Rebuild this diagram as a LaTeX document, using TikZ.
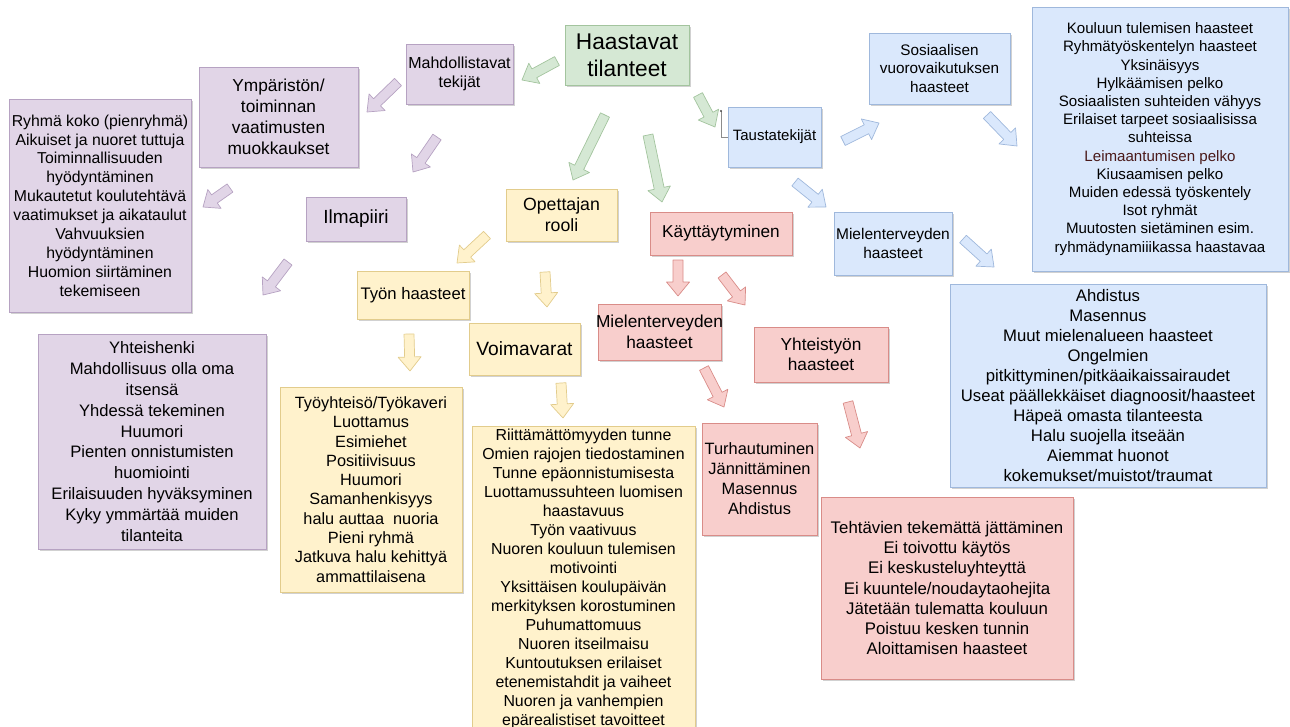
\documentclass[tikz,border=0pt]{standalone}
\usepackage{fontspec}
\setmainfont{Liberation Sans}
\usetikzlibrary{calc,shadows}

% colour scheme: fill and outline per branch
\definecolor{gfill}{HTML}{D5E8D4}\definecolor{gline}{HTML}{A3C49E}
\definecolor{pfill}{HTML}{E1D5E7}\definecolor{pline}{HTML}{B6A2C2}
\definecolor{yfill}{HTML}{FFF2CC}\definecolor{yline}{HTML}{E2CC8C}
\definecolor{rfill}{HTML}{F8CECC}\definecolor{rline}{HTML}{D98C88}
\definecolor{bfill}{HTML}{DAE8FC}\definecolor{bline}{HTML}{9FB8DC}
\definecolor{darkred}{HTML}{4A1A1A}

% wide block arrow from coordinate #2 to coordinate #3, style #1
\newcommand\blockarrow[3]{%
  \path[#1] let \p1=($(#3)!14pt!(#2)$) in
    ($(#2)!5pt!90:(#3)$) -- ($(\p1)!5pt!-90:(#2)$) -- ($(\p1)!11.5pt!-90:(#2)$)
    -- (#3) -- ($(\p1)!11.5pt!90:(#2)$) -- ($(\p1)!5pt!90:(#2)$)
    -- ($(#2)!5pt!-90:(#3)$) -- cycle;}

\begin{document}
\begin{tikzpicture}[x=1pt,y=-1pt,
  box/.style={draw, line width=0.8pt, inner sep=0pt, align=center,
    drop shadow={shadow xshift=1.5pt, shadow yshift=-1.5pt, fill=black, opacity=0.18}},
  gbox/.style={box, fill=gfill, draw=gline},
  pbox/.style={box, fill=pfill, draw=pline},
  ybox/.style={box, fill=yfill, draw=yline},
  rbox/.style={box, fill=rfill, draw=rline},
  bbox/.style={box, fill=bfill, draw=bline},
  sz/.style 2 args={minimum width=#1pt, minimum height=#2pt},
  fnt/.style 2 args={font=\fontsize{#1}{#2}\selectfont},
  arr/.style={line width=0.7pt, line join=round},
  garrow/.style={arr, fill=gfill, draw=gline},
  parrow/.style={arr, fill=pfill, draw=pline},
  yarrow/.style={arr, fill=yfill, draw=yline},
  rarrow/.style={arr, fill=rfill, draw=rline},
  barrow/.style={arr, fill=bfill, draw=bline}]
\useasboundingbox (0,0) rectangle (1290,726);
\clip (0,0) rectangle (1290,726);

% ---- centre ----
\node[gbox, sz={124}{60}, fnt={22.7}{27}] (hast) at (627,55) {Haastavat\\tilanteet};

% ---- enabling factors (purple) ----
\node[pbox, sz={107}{60}, fnt={16}{19}] (mahd) at (459.5,74) {Mahdollistavat\\tekijät};
\node[pbox, sz={159}{100}, fnt={17.3}{20.8}] (ymp) at (278.5,117)
  {Ympäristön/\\toiminnan\\vaatimusten\\muokkaukset};
\node[pbox, sz={182}{213}, fnt={15.8}{18.9}] (ymplist) at (100,205.5)
  {Ryhmä koko (pienryhmä)\\Aikuiset ja nuoret tuttuja\\Toiminnallisuuden\\hyödyntäminen\\Mukautetut koulutehtävä\\vaatimukset ja aikataulut\\Vahvuuksien\\hyödyntäminen\\Huomion siirtäminen\\tekemiseen};
\node[pbox, sz={100}{44}, fnt={19}{22}] (ilma) at (356,219) {Ilmapiiri};
\node[pbox, sz={228}{215}, fnt={16.6}{20.8}] (ilmalist) at (152,441.5)
  {Yhteishenki\\Mahdollisuus olla oma\\itsensä\\Yhdessä tekeminen\\Huumori\\Pienten onnistumisten\\huomiointi\\Erilaisuuden hyväksyminen\\Kyky ymmärtää muiden\\tilanteita};

% ---- teacher's role (yellow) ----
\node[ybox, sz={111}{52}, fnt={17.7}{21}] (opet) at (561.5,215) {Opettajan\\rooli};
\node[ybox, sz={112}{48}, fnt={16.7}{20}] (tyon) at (413,295) {Työn haasteet};
\node[ybox, sz={111}{52}, fnt={19.2}{22}] (voima) at (524.5,349) {Voimavarat};
\node[ybox, sz={182}{205}, fnt={16.3}{19.3}] (tyonlist) at (371,489.5)
  {Työyhteisö/Työkaveri\\Luottamus\\Esimiehet\\Positiivisuus\\Huumori\\Samanhenkisyys\\halu auttaa\ \ nuoria\\Pieni ryhmä\\Jatkuva halu kehittyä\\ammattilaisena};
\node[ybox, sz={223}{306}, fnt={15.9}{19}] (voimalist) at (583.5,579)
  {Riittämättömyyden tunne\\Omien rajojen tiedostaminen\\Tunne epäonnistumisesta\\Luottamussuhteen luomisen\\haastavuus\\Työn vaativuus\\Nuoren kouluun tulemisen\\motivointi\\Yksittäisen koulupäivän\\merkityksen korostuminen\\Puhumattomuus\\Nuoren itseilmaisu\\Kuntoutuksen erilaiset\\etenemistahdit ja vaiheet\\Nuoren ja vanhempien\\epärealistiset tavoitteet};

% ---- behaviour (red) ----
\node[rbox, sz={142}{43}, fnt={17.2}{20}] (kayt) at (721,233.5) {Käyttäytyminen};
\node[rbox, sz={123}{56}, fnt={17.3}{21}] (mielr) at (659.5,332)
  {\makebox[115pt][c]{Mielenterveyden}\\haasteet};
\node[rbox, sz={134}{55}, fnt={17.3}{20}] (yhteis) at (821,354.5) {Yhteistyön\\haasteet};
\node[rbox, sz={115}{112}, fnt={16.4}{20}] (mielrlist) at (759.5,479)
  {Turhautuminen\\Jännittäminen\\Masennus\\Ahdistus};
\node[rbox, sz={252}{182}, fnt={16.8}{20.3}] (yhteislist) at (947,588)
  {Tehtävien tekemättä jättäminen\\Ei toivottu käytös\\Ei keskusteluyhteyttä\\Ei kuuntele/noudaytaohejita\\Jätetään tulematta kouluun\\Poistuu kesken tunnin\\Aloittamisen haasteet};

% ---- background factors (blue) ----
\node[bbox, sz={93}{60}, fnt={15}{18}] (taus) at (774.5,137) {Taustatekijät};
\node[bbox, sz={141}{71}, fnt={15.3}{18.7}] (sosi) at (939.5,68.5)
  {Sosiaalisen\\vuorovaikutuksen\\haasteet};
\node[bbox, sz={118}{63}, fnt={15.5}{19}] (mielb) at (893,243.5) {Mielenterveyden\\haasteet};
\node[bbox, sz={256}{264}, fnt={15.1}{18.2}] (sosilist) at (1160,139)
  {Kouluun tulemisen haasteet\\Ryhmätyöskentelyn haasteet\\Yksinäisyys\\Hylkäämisen pelko\\Sosiaalisten suhteiden vähyys\\Erilaiset tarpeet sosiaalisissa\\suhteissa\\\textcolor{darkred}{Leimaantumisen pelko}\\Kiusaamisen pelko\\Muiden edessä työskentely\\Isot ryhmät\\Muutosten sietäminen esim.\\ryhmädynamiiikassa haastavaa};
\node[bbox, sz={316}{203}, fnt={16.7}{20.1}] (mielblist) at (1108,385.5)
  {Ahdistus\\Masennus\\Muut mielenalueen haasteet\\Ongelmien\\pitkittyminen/pitkäaikaissairaudet\\Useat päällekkäiset diagnoosit/haasteet\\Häpeä omasta tilanteesta\\Halu suojella itseään\\Aiemmat huonot\\kokemukset/muistot/traumat};

% ---- arrow end points ----
\coordinate (g1a) at (557,61);  \coordinate (g1b) at (522,80);
\coordinate (g2a) at (605,115); \coordinate (g2b) at (573,180);
\coordinate (g3a) at (648,135); \coordinate (g3b) at (662,202);
\coordinate (g4a) at (698,95);  \coordinate (g4b) at (715,127);
\coordinate (p1a) at (398,82);  \coordinate (p1b) at (367,112);
\coordinate (p2a) at (437,137); \coordinate (p2b) at (413,172);
\coordinate (p3a) at (230,188); \coordinate (p3b) at (203,207);
\coordinate (p4a) at (288,262); \coordinate (p4b) at (263,295);
\coordinate (y1a) at (487,235); \coordinate (y1b) at (457,263);
\coordinate (y2a) at (545,272); \coordinate (y2b) at (547,307);
\coordinate (y3a) at (409,334); \coordinate (y3b) at (410,371);
\coordinate (y4a) at (561,383); \coordinate (y4b) at (563,418);
\coordinate (r1a) at (678,260); \coordinate (r1b) at (678,296);
\coordinate (r2a) at (722,275); \coordinate (r2b) at (745,305);
\coordinate (r3a) at (704,368); \coordinate (r3b) at (724,407);
\coordinate (r4a) at (848,402); \coordinate (r4b) at (860,448);
\coordinate (b1a) at (843,141); \coordinate (b1b) at (879,123);
\coordinate (b2a) at (987,115); \coordinate (b2b) at (1017,146);
\coordinate (b3a) at (795,182); \coordinate (b3b) at (826,207);
\coordinate (b4a) at (963,239); \coordinate (b4b) at (994,267);

% ---- arrows ----
\blockarrow{garrow}{g1a}{g1b}
\blockarrow{garrow}{g2a}{g2b}
\blockarrow{garrow}{g3a}{g3b}
\blockarrow{garrow}{g4a}{g4b}
\blockarrow{parrow}{p1a}{p1b}
\blockarrow{parrow}{p2a}{p2b}
\blockarrow{parrow}{p3a}{p3b}
\blockarrow{parrow}{p4a}{p4b}
\blockarrow{yarrow}{y1a}{y1b}
\blockarrow{yarrow}{y2a}{y2b}
\blockarrow{yarrow}{y3a}{y3b}
\blockarrow{yarrow}{y4a}{y4b}
\blockarrow{rarrow}{r1a}{r1b}
\blockarrow{rarrow}{r2a}{r2b}
\blockarrow{rarrow}{r3a}{r3b}
\blockarrow{rarrow}{r4a}{r4b}
\blockarrow{barrow}{b1a}{b1b}
\blockarrow{barrow}{b2a}{b2b}
\blockarrow{barrow}{b3a}{b3b}
\blockarrow{barrow}{b4a}{b4b}

% thin elbow line at the left of the background-factor box
\coordinate (tmark) at (721,111);
\draw[black!45, line width=0.8pt] (tmark) |- (taus.west);
\fill[black!70] (tmark) circle (1.2pt);
\end{tikzpicture}
\end{document}
